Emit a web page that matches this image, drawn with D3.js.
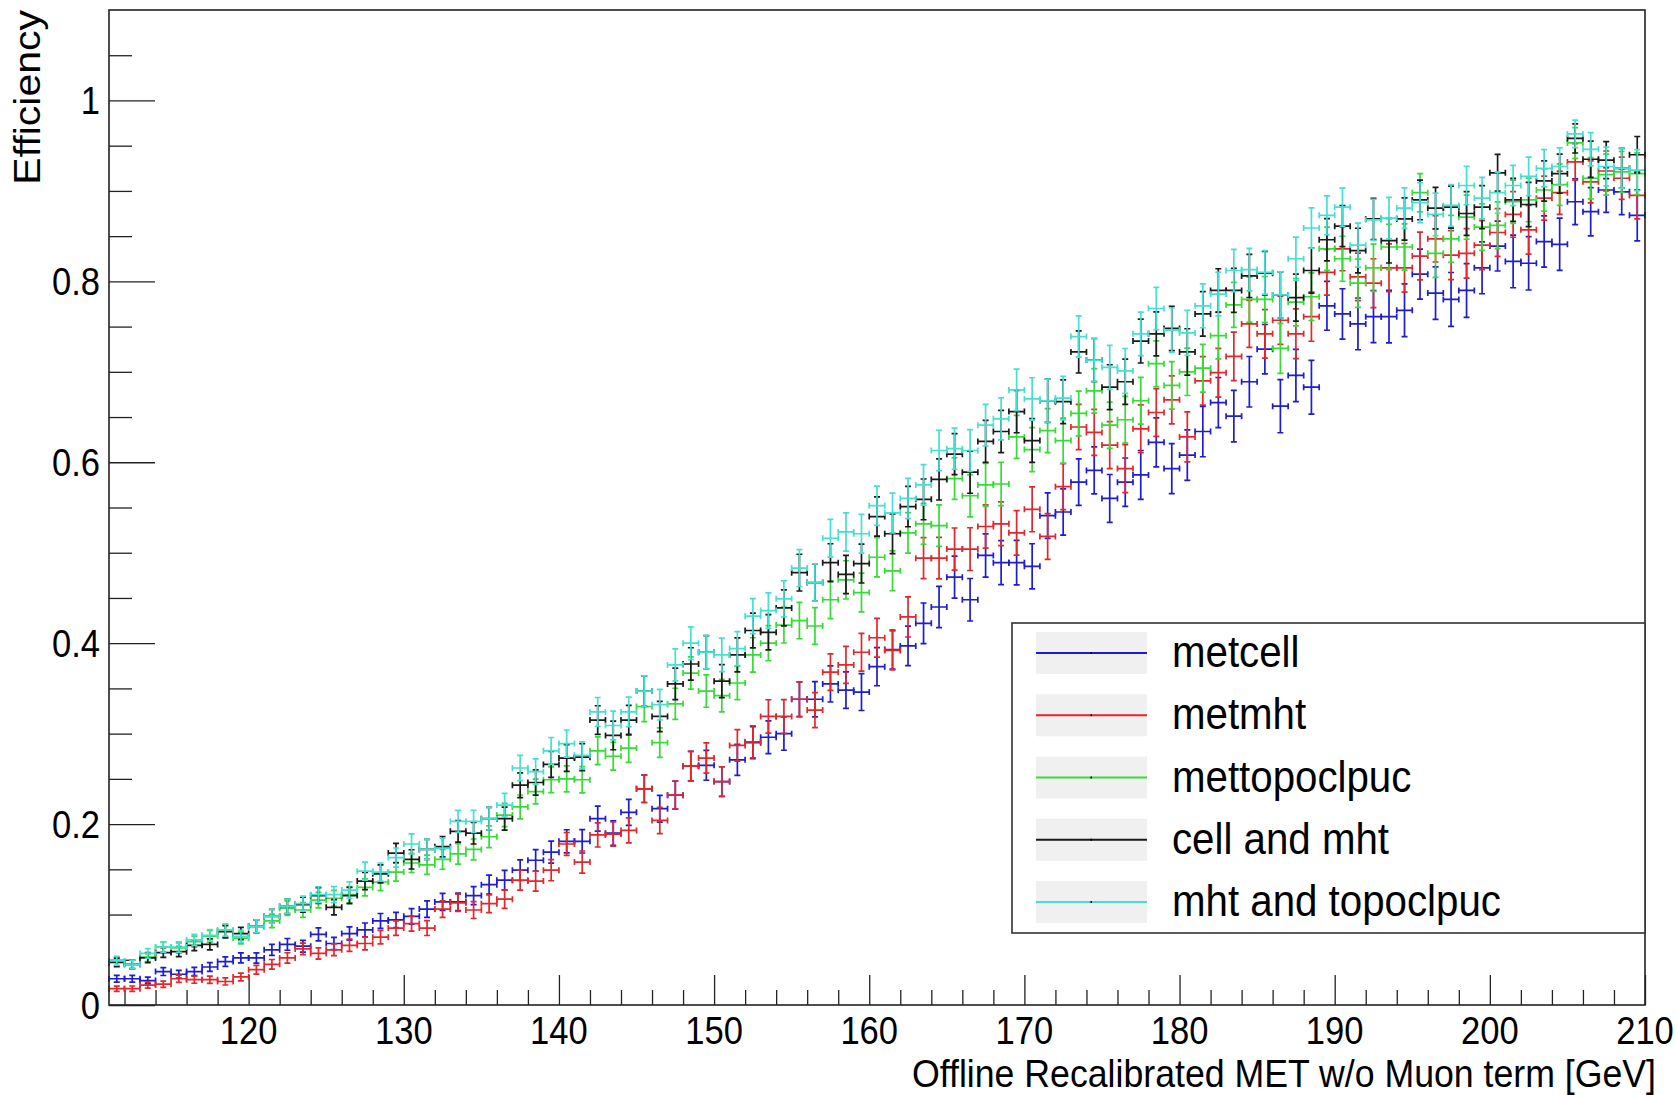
<!DOCTYPE html>
<html><head><meta charset="utf-8">
<script src="https://cdn.jsdelivr.net/npm/d3@7"></script>
<style>
html,body{margin:0;padding:0;background:#fff;}
svg{display:block;}
text{font-family:"Liberation Sans",Arial,Helvetica,sans-serif;fill:#000;}
</style>
</head><body>
<svg id="chart" width="1677" height="1095"></svg>
<script>
// ---- data ----
const binLow = d3.range(111, 210);            // 1 GeV bins: [111,112) ... [209,210)
const seriesNames = ["metcell", "metmht", "mettopoclpuc", "cell and mht", "mht and topoclpuc"];
const seriesColors = ["#1c1cd2", "#e4262a", "#36dc36", "#1a1a1a", "#44e0d2"];

const metcell = [0.029,0.029,0.027,0.037,0.034,0.037,0.042,0.048,0.052,0.052,
0.061,0.067,0.065,0.078,0.068,0.079,0.083,0.093,0.094,0.098,
0.106,0.114,0.114,0.121,0.133,0.138,0.149,0.160,0.169,0.181,
0.181,0.206,0.190,0.213,0.239,0.217,0.232,0.264,0.265,0.247,
0.271,0.290,0.296,0.300,0.338,0.338,0.355,0.348,0.346,0.374,
0.393,0.397,0.422,0.440,0.473,0.448,0.497,0.489,0.489,0.485,
0.541,0.545,0.578,0.591,0.560,0.578,0.586,0.622,0.593,0.608,
0.634,0.666,0.651,0.689,0.725,0.662,0.696,0.683,0.773,0.764,
0.753,0.761,0.761,0.768,0.808,0.787,0.780,0.790,0.815,0.839,
0.822,0.820,0.844,0.841,0.888,0.877,0.901,0.899,0.873];

const metmht = [0.018,0.018,0.022,0.023,0.029,0.028,0.028,0.026,0.031,0.039,
0.045,0.052,0.062,0.057,0.061,0.066,0.068,0.075,0.085,0.090,
0.085,0.106,0.113,0.105,0.112,0.117,0.138,0.137,0.149,0.178,
0.158,0.188,0.189,0.193,0.239,0.204,0.232,0.264,0.273,0.247,
0.287,0.291,0.319,0.319,0.338,0.326,0.368,0.376,0.390,0.406,
0.392,0.429,0.494,0.494,0.504,0.504,0.529,0.532,0.522,0.548,
0.518,0.573,0.639,0.633,0.619,0.593,0.637,0.655,0.669,0.628,
0.690,0.699,0.717,0.753,0.742,0.757,0.742,0.761,0.810,0.836,
0.805,0.798,0.815,0.815,0.828,0.847,0.829,0.831,0.840,0.854,
0.874,0.857,0.892,0.898,0.932,0.910,0.922,0.914,0.895];

const mettopoclpuc = [0.048,0.045,0.053,0.064,0.063,0.070,0.076,0.082,0.074,0.087,
0.093,0.107,0.105,0.116,0.118,0.122,0.130,0.136,0.147,0.157,
0.155,0.161,0.167,0.172,0.186,0.210,0.219,0.236,0.249,0.250,
0.249,0.281,0.275,0.284,0.330,0.290,0.333,0.367,0.347,0.342,
0.356,0.387,0.400,0.420,0.425,0.419,0.448,0.470,0.456,0.495,
0.480,0.522,0.532,0.530,0.582,0.563,0.575,0.576,0.628,0.614,
0.635,0.624,0.654,0.679,0.641,0.647,0.668,0.709,0.685,0.700,
0.704,0.740,0.774,0.780,0.780,0.726,0.777,0.783,0.836,0.825,
0.798,0.815,0.838,0.838,0.898,0.831,0.847,0.871,0.860,0.862,
0.888,0.890,0.901,0.907,0.953,0.914,0.918,0.921,0.919];

const cellAndMht = [0.047,0.045,0.052,0.058,0.059,0.066,0.067,0.081,0.079,0.087,
0.098,0.109,0.111,0.121,0.108,0.121,0.137,0.145,0.168,0.161,
0.172,0.175,0.192,0.190,0.206,0.206,0.243,0.246,0.266,0.273,
0.274,0.315,0.298,0.315,0.347,0.319,0.355,0.377,0.390,0.358,
0.387,0.414,0.412,0.439,0.478,0.467,0.489,0.476,0.488,0.540,
0.521,0.551,0.559,0.581,0.609,0.589,0.623,0.634,0.656,0.624,
0.668,0.667,0.722,0.713,0.683,0.689,0.734,0.742,0.748,0.722,
0.764,0.790,0.790,0.806,0.809,0.785,0.782,0.812,0.846,0.861,
0.834,0.869,0.845,0.869,0.890,0.881,0.882,0.875,0.882,0.920,
0.890,0.885,0.911,0.919,0.958,0.935,0.934,0.925,0.940];

const mhtAndTopoclpuc = [0.049,0.045,0.057,0.064,0.064,0.072,0.077,0.083,0.076,0.087,
0.098,0.109,0.112,0.122,0.122,0.127,0.148,0.147,0.163,0.178,
0.172,0.173,0.203,0.203,0.206,0.221,0.262,0.258,0.281,0.289,
0.276,0.324,0.309,0.324,0.347,0.332,0.376,0.400,0.390,0.387,
0.394,0.430,0.436,0.449,0.483,0.467,0.516,0.523,0.521,0.552,
0.544,0.560,0.575,0.613,0.615,0.613,0.641,0.648,0.680,0.670,
0.668,0.671,0.739,0.713,0.705,0.701,0.742,0.770,0.746,0.743,
0.773,0.786,0.812,0.813,0.810,0.785,0.825,0.859,0.873,0.882,
0.840,0.868,0.870,0.881,0.887,0.874,0.884,0.906,0.892,0.898,
0.906,0.916,0.925,0.927,0.963,0.946,0.927,0.925,0.923];

// estimated number of (denominator) events per bin, read from error-bar sizes
const denom = [2000,1946,1894,1843,1794,1746,1699,1653,1609,1566,
1524,1483,1443,1404,1367,1330,1294,1260,1226,1193,
1161,1130,1099,1070,1041,1013,986,960,934,909,
884,861,838,815,793,772,751,731,711,692,
674,656,638,621,604,588,572,557,542,527,
513,499,486,473,460,448,436,424,413,402,
391,380,370,360,351,341,332,323,315,306,
298,290,282,275,267,260,253,246,240,233,
227,221,215,209,204,198,193,188,183,178,
173,169,164,160,155,151,147,143,139];

const xMajorTicks = [120,130,140,150,160,170,180,190,200,210];
const xMinorTicks = [112,114,116,118,122,124,126,128,132,134,136,138,142,144,146,148,152,154,156,158,162,164,166,168,172,174,176,178,182,184,186,188,192,194,196,198,202,204,206,208];
const yMajorTicks = [0,0.2,0.4,0.6,0.8,1.0];
const yTickLabels = ["0","0.2","0.4","0.6","0.8","1"];
const yMinorTicks = [0.05,0.1,0.15,0.25,0.3,0.35,0.45,0.5,0.55,0.65,0.7,0.75,0.85,0.9,0.95,1.05];
const xTitle = "Offline Recalibrated MET w/o Muon term [GeV]";
const yTitle = "Efficiency";

// ---- layout ----
const F = {l:109, r:1645, t:10, b:1005};
const svg = d3.select("#chart");
const x = d3.scaleLinear().domain([111,210]).range([F.l, F.r]);
const y = d3.scaleLinear().domain([0,1.1]).range([F.b, F.t]);

svg.append("rect").attr("width",1677).attr("height",1095).attr("fill","#fff");

// axes ticks (inward)
function styleAxis(g){ g.select(".domain").remove(); g.selectAll("line").attr("stroke","#222").attr("stroke-width",1.3); g.selectAll("text").remove(); }
svg.append("g").attr("transform",`translate(0,${F.b})`)
  .call(d3.axisBottom(x).tickValues(xMajorTicks).tickSize(-30).tickFormat(()=>"")).call(styleAxis);
svg.append("g").attr("transform",`translate(0,${F.b})`)
  .call(d3.axisBottom(x).tickValues(xMinorTicks).tickSize(-15).tickFormat(()=>"")).call(styleAxis);
svg.append("g").attr("transform",`translate(${F.l},0)`)
  .call(d3.axisLeft(y).tickValues(yMajorTicks).tickSize(-46).tickFormat(()=>"")).call(styleAxis);
svg.append("g").attr("transform",`translate(${F.l},0)`)
  .call(d3.axisLeft(y).tickValues(yMinorTicks).tickSize(-23).tickFormat(()=>"")).call(styleAxis);

// tick labels
const SX = 0.91;
svg.append("g").selectAll("text").data(xMajorTicks).join("text")
  .attr("transform", d=>`translate(${x(d)},1044) scale(${SX},1)`)
  .attr("text-anchor","middle").attr("font-size",38).text(d=>d);
svg.append("g").selectAll("text").data(yMajorTicks).join("text")
  .attr("transform", d=>`translate(100,${y(d)}) scale(${SX},1)`)
  .attr("text-anchor","end").attr("dy","0.36em").attr("font-size",38)
  .text((d,i)=>yTickLabels[i]);

// axis titles
svg.append("text").attr("transform",`translate(1656,1087) scale(0.915,1)`)
  .attr("text-anchor","end").attr("font-size",39).text(xTitle);
svg.append("text").attr("transform",`translate(40,${F.t}) rotate(-90) scale(1,0.9)`)
  .attr("text-anchor","end").attr("font-size",41).text(yTitle);

// ---- data series ----
const series = [metcell, metmht, mettopoclpuc, cellAndMht, mhtAndTopoclpuc];
const cap = 3;
const plot = svg.append("g");
series.forEach((vals, si) => {
  const col = seriesColors[si];
  const g = plot.append("g").attr("stroke", col).attr("stroke-width", 1.7).attr("fill","none");
  vals.forEach((p, i) => {
    const lo = binLow[i];
    const err = Math.sqrt(p*(1-p)/denom[i]);
    const xc = x(lo+0.5), x0 = x(lo), x1 = x(lo+1);
    const yc = y(p), yt = y(Math.min(1, p+err)), yb = y(Math.max(0, p-err));
    const path = d3.path();
    path.moveTo(xc, yb); path.lineTo(xc, yt);
    path.moveTo(xc-cap, yt); path.lineTo(xc+cap, yt);
    path.moveTo(xc-cap, yb); path.lineTo(xc+cap, yb);
    path.moveTo(x0, yc); path.lineTo(x1, yc);
    path.moveTo(x0, yc-cap); path.lineTo(x0, yc+cap);
    path.moveTo(x1, yc-cap); path.lineTo(x1, yc+cap);
    g.append("path").attr("d", path.toString());
  });
});

// frame
svg.append("rect").attr("x",F.l).attr("y",F.t).attr("width",F.r-F.l).attr("height",F.b-F.t)
  .attr("fill","none").attr("stroke","#222").attr("stroke-width",1.6);

// ---- legend ----
const L = {l:1012, t:623, r:1645, b:933};
svg.append("rect").attr("x",L.l).attr("y",L.t).attr("width",L.r-L.l).attr("height",L.b-L.t)
  .attr("fill","#fff").attr("stroke","#333").attr("stroke-width",1.6);
const rowY = d3.scaleLinear().domain([0,4]).range([653, 902]);
const leg = svg.append("g").selectAll("g").data(seriesNames).join("g")
  .attr("transform",(d,i)=>`translate(0,${rowY(i)})`);
leg.append("rect").attr("x",1036).attr("y",-21).attr("width",111).attr("height",42).attr("fill","#f0f0f0");
leg.append("line").attr("x1",1036).attr("x2",1147).attr("y1",0).attr("y2",0)
  .attr("stroke",(d,i)=>seriesColors[i]).attr("stroke-width",2);
leg.append("rect").attr("x",1090.5).attr("y",-1).attr("width",1.5).attr("height",2).attr("fill","#000");
leg.append("text").attr("transform",`translate(1172,14) scale(0.915,1)`)
  .attr("font-size",44).text(d=>d);
</script>
</body></html>
